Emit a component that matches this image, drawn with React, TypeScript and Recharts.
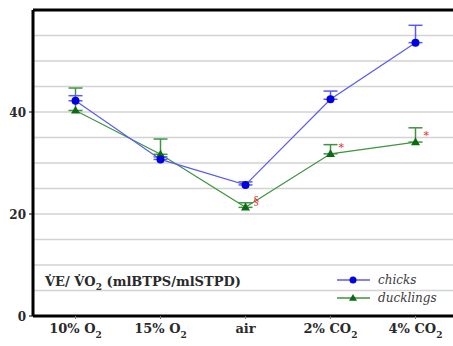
import React from 'react';
import {
  ComposedChart,
  Line,
  XAxis,
  YAxis,
  ErrorBar,
  ReferenceLine,
  LabelList,
} from 'recharts';

// Conditions on the x axis (label text + subscript part)
const categories = ['10% O', '15% O', 'air', '2% CO', '4% CO'];
const categorySubs = ['2', '2', '', '2', '2'];

// Ventilatory equivalent (mlBTPS/mlSTPD), mean and upper SE
const chicks = [42.2, 30.7, 25.7, 42.5, 53.6];
const chicksErr = [1.0, 0.5, 0.6, 1.6, 3.4];
const ducklings = [40.3, 31.7, 21.3, 31.8, 34.1];
const ducklingsErr = [4.4, 3.0, 0.9, 1.8, 2.8];
// Significance markers on the ducklings series
const ducklingMarks = ['', '', '§', '*', '*'];

const yTicks = [0, 20, 40];
const gridValues = [5, 10, 15, 20, 25, 30, 35, 40, 45, 50, 55];

const data = categories.map((c, i) => ({
  idx: i,
  chicks: chicks[i],
  chicksErr: [0, chicksErr[i]],
  ducklings: ducklings[i],
  ducklingsErr: [0, ducklingsErr[i]],
  mark: ducklingMarks[i],
}));

const SERIF = 'DejaVu Serif';
const TEXT = '#2a2a2a';
const BLUE_LINE = '#5a5af2';
const BLUE_DOT = '#0000e0';
const GREEN_LINE = '#3e9440';
const GREEN_DOT = '#0b6a12';

const Triangle = (props: any) => {
  const { cx, cy, fill, size = 5 } = props;
  if (cx == null || cy == null) return null;
  const h = size * 1.7;
  return (
    <polygon
      points={`${cx},${cy - h * 0.6} ${cx - size},${cy + h * 0.4} ${cx + size},${cy + h * 0.4}`}
      fill={fill}
    />
  );
};

const XTick = (props: any) => {
  const { x, y, payload } = props;
  const i = payload.value as number;
  return (
    <text
      x={x}
      y={y + 12}
      textAnchor="middle"
      fontFamily={SERIF}
      fontWeight="bold"
      fontSize={13}
      fill={TEXT}
    >
      {categories[i]}
      {categorySubs[i] ? (
        <tspan fontSize={9} dy={5}>
          {categorySubs[i]}
        </tspan>
      ) : null}
    </text>
  );
};

const YTick = (props: any) => {
  const { x, y, payload } = props;
  return (
    <text
      x={x}
      y={y + 5}
      textAnchor="end"
      fontFamily={SERIF}
      fontWeight="bold"
      fontSize={12}
      fill={TEXT}
    >
      {payload.value}
    </text>
  );
};

const YTitle = (props: any) => {
  const { viewBox } = props;
  const x = viewBox.x + viewBox.width + 12;
  const y = viewBox.y + viewBox.height - 30;
  return (
    <text x={x} y={y} fontFamily={SERIF} fontWeight="bold" fontSize={13} fill={TEXT}>
      {'V\u0307E/ V\u0307O'}
      <tspan fontSize={9} dy={4}>2</tspan>
      <tspan dy={-4}>{' (mlBTPS/mlSTPD)'}</tspan>
    </text>
  );
};

const MarkLabel = (props: any) => {
  const { x, y, value } = props;
  if (!value) return null;
  return (
    <text x={x + 8} y={y - 3} fontFamily={SERIF} fontSize={11} fill="#e03030">
      {value}
    </text>
  );
};

const LegendBox = () => (
  <svg width={120} height={36} style={{ display: 'block' }}>
    <line x1={0} y1={7} x2={33} y2={7} stroke={BLUE_LINE} strokeWidth={1.5} />
    <circle cx={16} cy={7} r={3.5} fill={BLUE_DOT} />
    <text x={41} y={11} fontFamily={SERIF} fontStyle="italic" fontSize={12} fill="#3a3a3a">
      chicks
    </text>
    <line x1={0} y1={25} x2={33} y2={25} stroke={GREEN_LINE} strokeWidth={1.5} />
    <Triangle cx={16} cy={25} fill={GREEN_DOT} size={4} />
    <text x={41} y={29} fontFamily={SERIF} fontStyle="italic" fontSize={12} fill="#3a3a3a">
      ducklings
    </text>
  </svg>
);

export default function App() {
  return (
    <div
      style={{
        position: 'absolute',
        left: 0,
        top: 0,
        width: 453,
        height: 346,
        overflow: 'hidden',
        background: '#fff',
      }}
    >
      <ComposedChart
        width={470}
        height={346}
        data={data}
        margin={{ top: 10, right: 12, left: 0, bottom: 0 }}
      >
        {gridValues.map((v) => (
          <ReferenceLine key={v} y={v} stroke="#d2d2d2" strokeWidth={1.5} />
        ))}
        <XAxis
          dataKey="idx"
          type="number"
          domain={[-0.5, 4.5]}
          ticks={[0, 1, 2, 3, 4]}
          height={30}
          axisLine={{ stroke: '#000', strokeWidth: 3 }}
          tickLine={{ stroke: '#777' }}
          tickSize={3}
          tick={<XTick />}
          interval={0}
        />
        <YAxis
          type="number"
          domain={[0, 60]}
          ticks={yTicks}
          width={33}
          axisLine={{ stroke: '#000', strokeWidth: 3 }}
          tickLine={{ stroke: '#000' }}
          tickSize={4}
          tickMargin={3}
          tick={<YTick />}
          label={<YTitle />}
        />
        <ReferenceLine y={60} stroke="#000" strokeWidth={3} />
        <ReferenceLine x={4.5} stroke="#000" strokeWidth={3} />
        <Line
          dataKey="ducklings"
          stroke={GREEN_LINE}
          strokeWidth={1.2}
          dot={<Triangle fill={GREEN_DOT} size={4.5} />}
          activeDot={false}
          isAnimationActive={false}
        >
          <ErrorBar dataKey="ducklingsErr" direction="y" width={7} stroke={GREEN_LINE} strokeWidth={1.5} />
          <LabelList dataKey="mark" content={<MarkLabel />} />
        </Line>
        <Line
          dataKey="chicks"
          stroke={BLUE_LINE}
          strokeWidth={1.2}
          dot={{ r: 4, fill: BLUE_DOT, stroke: BLUE_DOT, strokeWidth: 0 }}
          activeDot={false}
          isAnimationActive={false}
        >
          <ErrorBar dataKey="chicksErr" direction="y" width={7} stroke={BLUE_LINE} strokeWidth={1.5} />
        </Line>
      </ComposedChart>
      <div style={{ position: 'absolute', left: 337, top: 273 }}>
        <LegendBox />
      </div>
    </div>
  );
}
